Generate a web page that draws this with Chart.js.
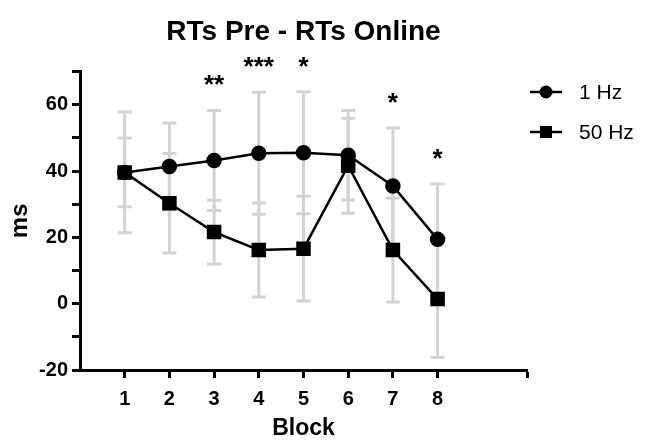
<!DOCTYPE html>
<html>
<head>
<meta charset="utf-8">
<script src="https://cdn.jsdelivr.net/npm/chart.js@4.4.1/dist/chart.umd.min.js"></script>
<style>
  html, body { margin: 0; padding: 0; background: #fff; }
  #wrap { width: 646px; height: 442px; position: relative; }
</style>
</head>
<body>
<div id="wrap"><canvas id="rtChart"></canvas></div>
<script>
// Data
const blocks = [1, 2, 3, 4, 5, 6, 7, 8];
const hz1Mean = [39.6, 41.4, 43.2, 45.4, 45.5, 44.8, 35.5, 19.4];
const hz1Err = [18.2, 13.1, 15.1, 18.4, 18.4, 13.5, 17.5, 16.7];
const hz50Mean = [39.6, 30.3, 21.6, 16.2, 16.6, 41.6, 16.2, 1.4];
const hz50Err = [10.4, 15.0, 9.6, 14.2, 15.8, 14.3, 15.7, 17.6];
const sigLabels = ['', '', '**', '***', '*', '', '*', '*'];
const xTicks = [1, 2, 3, 4, 5, 6, 7, 8, 10];

const FONT = "'Liberation Sans', Arial, Helvetica, sans-serif";
const errColor = '#d3d3d3';

// gray error bars behind the lines
const errorBars = {
    id: 'errorBars',
    beforeDatasetsDraw(chart) {
        const { ctx, scales: { x, y } } = chart;
        const sets = [[hz1Mean, hz1Err], [hz50Mean, hz50Err]];
        ctx.save();
        ctx.strokeStyle = errColor;
        ctx.lineWidth = 3;
        sets.forEach(([mean, err]) => {
            blocks.forEach((b, i) => {
                const px = x.getPixelForValue(b);
                const top = y.getPixelForValue(mean[i] + err[i]);
                const bot = y.getPixelForValue(mean[i] - err[i]);
                ctx.beginPath();
                ctx.moveTo(px, top); ctx.lineTo(px, bot);
                ctx.moveTo(px - 7, top); ctx.lineTo(px + 7, top);
                ctx.moveTo(px - 7, bot); ctx.lineTo(px + 7, bot);
                ctx.stroke();
            });
        });
        ctx.restore();
    }
};

// significance stars above highest error bar
const sigStars = {
    id: 'sigStars',
    afterDatasetsDraw(chart) {
        const { ctx, scales: { x, y } } = chart;
        ctx.save();
        ctx.fillStyle = '#000';
        ctx.font = 'bold 26px ' + FONT;
        ctx.textAlign = 'center';
        ctx.textBaseline = 'alphabetic';
        blocks.forEach((b, i) => {
            if (!sigLabels[i]) return;
            const topVal = Math.max(hz1Mean[i] + hz1Err[i], hz50Mean[i] + hz50Err[i]);
            const py = y.getPixelForValue(topVal) - 32 + 15;
            ctx.fillText(sigLabels[i], x.getPixelForValue(b), py);
        });
        ctx.restore();
    }
};

// legend with line + marker like the original
const lineLegend = {
    id: 'lineLegend',
    afterDraw(chart) {
        const { ctx } = chart;
        ctx.save();
        chart.data.datasets.forEach((ds, i) => {
            const yy = 92 + i * 40;
            ctx.strokeStyle = '#000';
            ctx.lineWidth = 2.5;
            ctx.beginPath();
            ctx.moveTo(530, yy); ctx.lineTo(562, yy);
            ctx.stroke();
            ctx.fillStyle = '#000';
            if (ds.pointStyle === 'rect') {
                ctx.fillRect(546 - 6, yy - 6, 12, 12);
            } else {
                ctx.beginPath();
                ctx.arc(546, yy, 6.5, 0, Math.PI * 2);
                ctx.fill();
            }
            ctx.font = '21px ' + FONT;
            ctx.textAlign = 'left';
            ctx.textBaseline = 'middle';
            ctx.fillText(ds.label, 579, yy + 1);
        });
        ctx.restore();
    }
};

const ctx = document.getElementById('rtChart').getContext('2d');
new Chart(ctx, {
    type: 'line',
    data: {
        datasets: [
            {
                label: '1 Hz',
                data: blocks.map((b, i) => ({ x: b, y: hz1Mean[i] })),
                borderColor: '#000',
                backgroundColor: '#000',
                borderWidth: 2.5,
                pointStyle: 'circle',
                pointRadius: 6.5,
                pointHoverRadius: 6.5,
                clip: false
            },
            {
                label: '50 Hz',
                data: blocks.map((b, i) => ({ x: b, y: hz50Mean[i] })),
                borderColor: '#000',
                backgroundColor: '#000',
                borderWidth: 2.5,
                pointStyle: 'rect',
                pointRadius: 8.5,
                pointHoverRadius: 8.5,
                clip: false
            }
        ]
    },
    options: {
        responsive: true,
        maintainAspectRatio: false,
        animation: false,
        layout: { padding: { left: 0, right: 119, top: 0, bottom: 0 } },
        plugins: {
            legend: { display: false },
            tooltip: { enabled: false },
            title: {
                display: true,
                text: 'RTs Pre - RTs Online',
                fullSize: false,
                color: '#000',
                font: { family: FONT, size: 28, weight: 'bold' },
                padding: { top: 15, bottom: 23 }
            }
        },
        scales: {
            x: {
                type: 'linear',
                min: 0,
                max: 10,
                afterBuildTicks: (scale) => {
                    scale.ticks = xTicks.map(v => ({ value: v }));
                },
                afterFit: (scale) => { scale.height = 72; },
                grid: {
                    drawOnChartArea: false,
                    tickLength: 8,
                    tickWidth: 3,
                    tickColor: '#000'
                },
                border: { display: true, color: '#000', width: 3 },
                ticks: {
                    color: '#000',
                    padding: 9,
                    maxRotation: 0,
                    font: { family: FONT, size: 20, weight: 'bold' },
                    callback: (v) => (v <= 8 ? v : '')
                },
                title: {
                    display: true,
                    text: 'Block',
                    color: '#000',
                    font: { family: FONT, size: 23, weight: 'bold' },
                    padding: { top: 7, bottom: 0 }
                }
            },
            y: {
                min: -20,
                max: 70,
                ticks: {
                    stepSize: 10,
                    color: '#000',
                    padding: 4,
                    font: { family: FONT, size: 20, weight: 'bold' },
                    callback: (v) => (v % 20 === 0 && v < 70 ? v : '')
                },
                afterFit: (scale) => { scale.width = 80; },
                grid: {
                    drawOnChartArea: false,
                    tickLength: 8,
                    tickWidth: 3,
                    tickColor: '#000'
                },
                border: { display: true, color: '#000', width: 3 },
                title: {
                    display: true,
                    text: 'ms',
                    color: '#000',
                    font: { family: FONT, size: 24, weight: 'bold' },
                    padding: { top: 6, bottom: 4 }
                }
            }
        }
    },
    plugins: [errorBars, sigStars, lineLegend]
});
</script>
</body>
</html>
